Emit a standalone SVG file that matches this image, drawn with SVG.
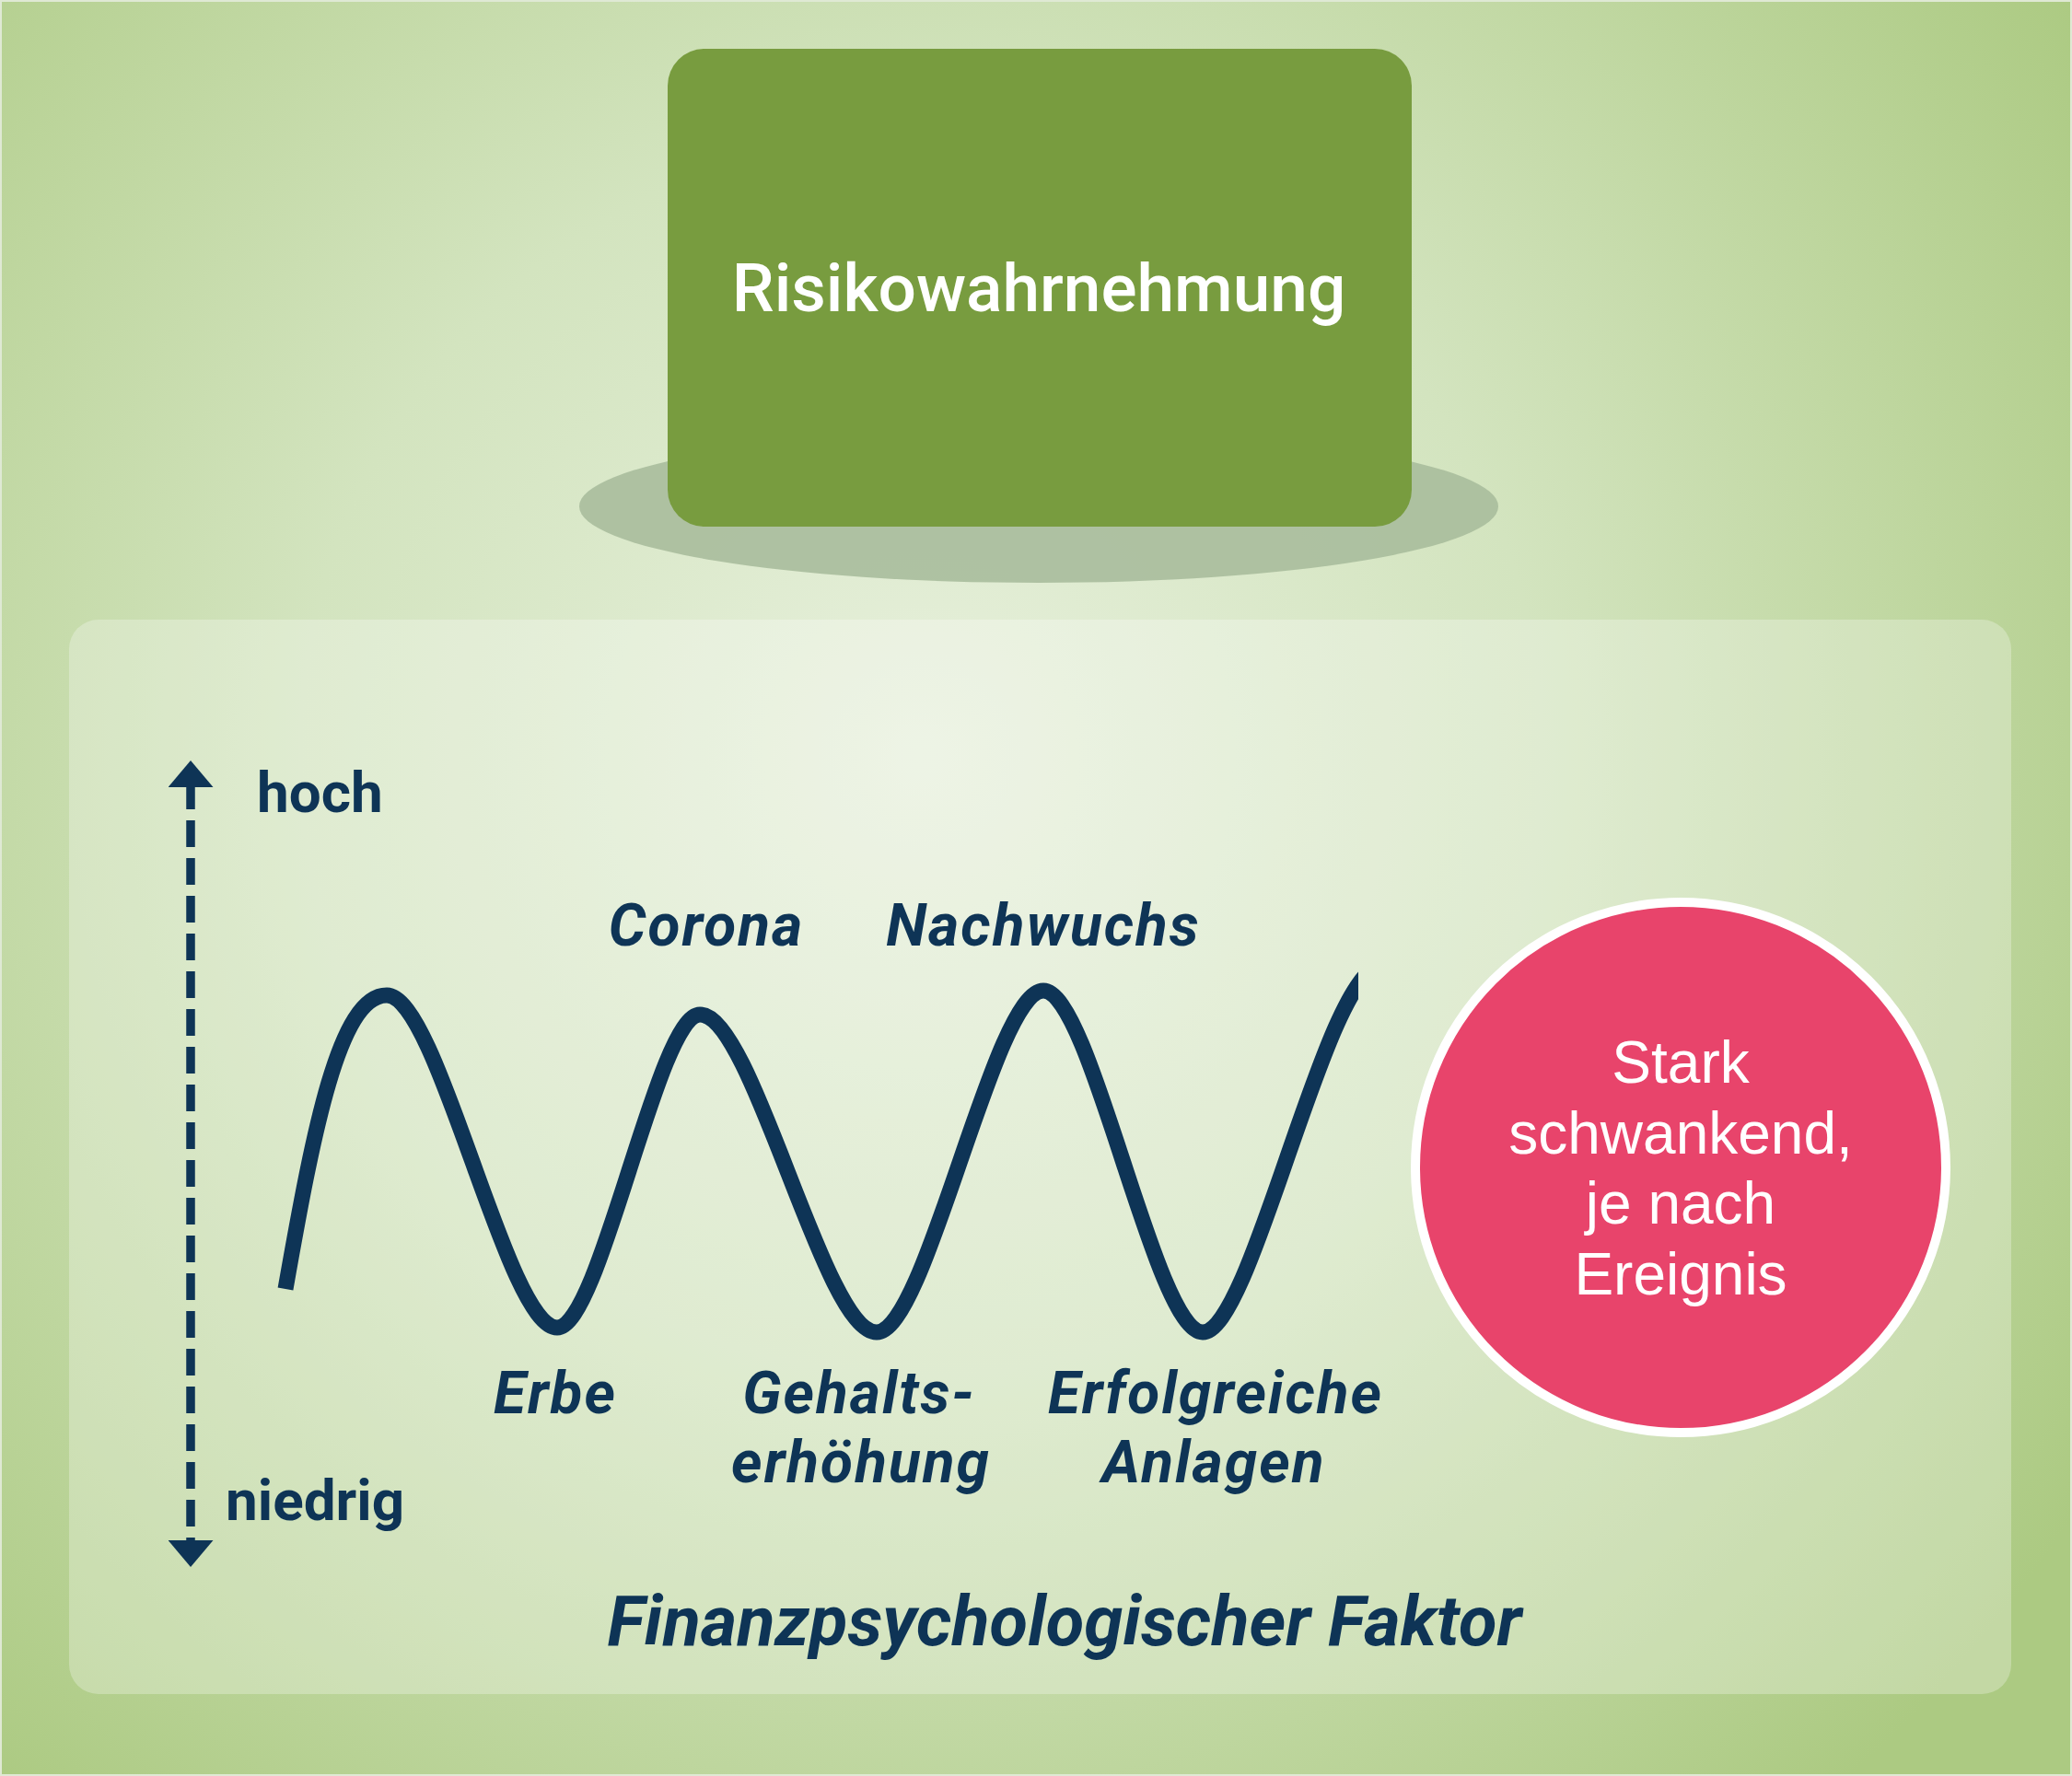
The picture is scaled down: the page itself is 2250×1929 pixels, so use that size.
<svg xmlns="http://www.w3.org/2000/svg" width="2250" height="1929" viewBox="0 0 2250 1929">
<defs>
<radialGradient id="bg" cx="1000" cy="820" r="1500" gradientUnits="userSpaceOnUse">
<stop offset="0" stop-color="#e7f0dc"/>
<stop offset="0.45" stop-color="#d3e4bf"/>
<stop offset="1" stop-color="#acca82"/>
</radialGradient>
<clipPath id="waveclip">
<rect x="250" y="950" width="1225" height="600"/>
</clipPath>
<marker id="ah" viewBox="0 0 29 49" refX="0" refY="24.5" markerWidth="29" markerHeight="49" markerUnits="userSpaceOnUse" orient="auto-start-reverse">
<path d="M0,0 L29,24.5 L0,49 Z" fill="#0e3456"/>
</marker>
<style>
.lbl{font-family:Roboto,"Liberation Sans",sans-serif;font-style:italic;font-weight:700;font-size:64px;letter-spacing:2px;fill:#0e3456;text-anchor:middle}
.axis{font-family:Roboto,"Liberation Sans",sans-serif;font-weight:700;font-size:62px;fill:#0e3456}
.circ{font-family:"Liberation Sans",Arial,sans-serif;font-size:64px;fill:#ffffff;text-anchor:middle}
</style>
</defs>
<rect x="0" y="0" width="2250" height="1929" fill="url(#bg)"/>
<rect x="1" y="1" width="2248" height="1927" fill="none" stroke="#dfe9d4" stroke-width="2"/>
<g id="panel">
<rect x="75" y="673" width="2109" height="1167" rx="32" fill="#ffffff" fill-opacity="0.28"/>
</g>
<g id="risikowahrnehmung">
<ellipse cx="1128" cy="550" rx="499" ry="83" fill="#a9bd9c" fill-opacity="0.9"/>
<rect x="725" y="53" width="808" height="519" rx="40" fill="#789c3f"/>
<text x="1128" y="338" font-family="Roboto,'Liberation Sans',sans-serif" font-weight="500" font-size="73" fill="#ffffff" text-anchor="middle">Risikowahrnehmung</text>
</g>
<g id="axis">
<line x1="207" y1="855" x2="207" y2="1673" stroke="#0e3456" stroke-width="9.5" stroke-dasharray="29 12" stroke-dashoffset="5" marker-start="url(#ah)" marker-end="url(#ah)"/>
<text class="axis" x="279" y="882">hoch</text>
<text class="axis" x="245" y="1651">niedrig</text>
</g>
<g id="connectors">
<path id="wave" clip-path="url(#waveclip)" d="M310,1400 C340,1230 368,1081 420,1081 C476,1081 550,1442 605,1442 C652,1442 714,1102 760,1102 C818,1102 894,1447 952,1447 C1006,1447 1079,1076 1133,1076 C1185,1076 1254,1447 1306,1447 C1360,1447 1440,1050 1500,1050" fill="none" stroke="#0e3456" stroke-width="17"/>
</g>
<g id="events">
<text class="lbl" x="767" y="1027">Corona</text>
<text class="lbl" x="1133" y="1027">Nachwuchs</text>
<text class="lbl" x="603" y="1535">Erbe</text>
<text class="lbl" x="933" y="1535">Gehalts-</text>
<text class="lbl" x="935" y="1610">erhöhung</text>
<text class="lbl" x="1320" y="1535">Erfolgreiche</text>
<text class="lbl" x="1318" y="1610">Anlagen</text>
</g>
<g id="stark">
<circle cx="1825" cy="1268" r="288" fill="#e8446b" stroke="#ffffff" stroke-width="10"/>
<text class="circ" x="1825" y="1176">Stark</text>
<text class="circ" x="1825" y="1253">schwankend,</text>
<text class="circ" x="1825" y="1329">je nach</text>
<text class="circ" x="1825" y="1406">Ereignis</text>
</g>
<g id="faktor">
<text x="1156" y="1787" font-family="Roboto,'Liberation Sans',sans-serif" font-style="italic" font-weight="700" font-size="76" fill="#0e3456" text-anchor="middle">Finanzpsychologischer Faktor</text>
</g>
</svg>
